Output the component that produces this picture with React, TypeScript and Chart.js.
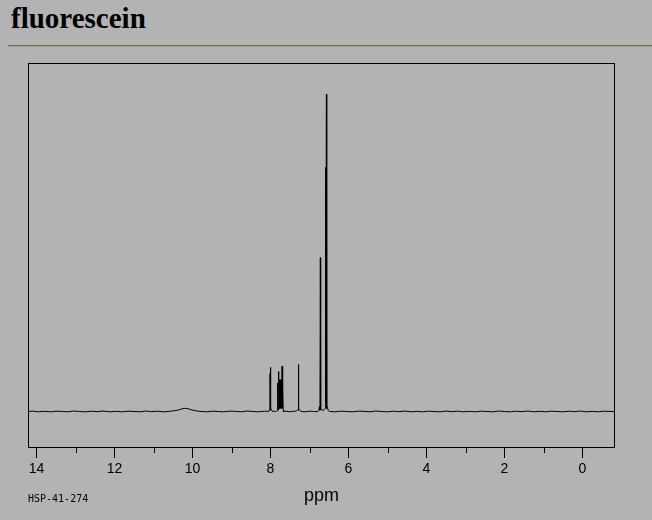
import React, { useEffect, useRef } from 'react';
import { Chart, registerables } from 'chart.js';

Chart.register(...registerables);

// ---- data ----
const compoundName = 'fluorescein';
const sampleCode = 'HSP-41-274';
const axisTitle = 'ppm';

const ppmValues = [
  14.218, 14.1, 13.95, 13.8, 13.62, 13.5, 13.33, 13.2, 13.05, 12.9, 12.74, 12.6, 12.43, 12.3, 12.12, 11.98, 11.8, 11.65, 11.5, 11.34, 11.2, 11.05, 10.9, 10.75, 10.62,
  10.5, 10.38, 10.28, 10.2, 10.12, 10.02, 9.9, 9.78,
  9.62, 9.48, 9.33, 9.2, 9.05, 8.9, 8.75, 8.6, 8.45, 8.3, 8.15, 8.05, 8.03,
  8.017, 8.012, 8.007, 7.995, 7.99, 7.975, 7.95, 7.9, 7.86, 7.84,
  7.83, 7.822, 7.818, 7.81, 7.805, 7.795, 7.79, 7.785, 7.78, 7.775, 7.77, 7.765, 7.76, 7.755, 7.75, 7.745, 7.74, 7.735, 7.73, 7.725, 7.72, 7.715, 7.71, 7.703, 7.698, 7.692, 7.687, 7.68, 7.675, 7.665,
  7.6, 7.5, 7.42, 7.34, 7.31, 7.292, 7.288, 7.283, 7.277, 7.272, 7.255, 7.22, 7.12, 7.0, 6.9, 6.8,
  6.76, 6.745, 6.732, 6.722, 6.714, 6.705, 6.66, 6.62, 6.6, 6.59, 6.583, 6.566, 6.558, 6.545, 6.52, 6.48,
  6.35, 6.2, 6.05, 5.9, 5.75, 5.6, 5.45, 5.3, 5.15, 5.0, 4.85, 4.7, 4.55, 4.4, 4.25, 4.1, 3.95, 3.8, 3.65, 3.5,
  3.35, 3.2, 3.05, 2.9, 2.75, 2.6, 2.45, 2.3, 2.15, 2.0, 1.85, 1.7, 1.55, 1.4, 1.25, 1.1, 0.95, 0.8, 0.65, 0.5,
  0.35, 0.2, 0.05, -0.1, -0.25, -0.4, -0.55, -0.7, -0.833,
];

const intensityValues = [
  0, 0.1, -0.1, 0.05, -0.1, 0.1, 0, -0.1, 0.15, 0, -0.1, 0.1, -0.05, 0.15, -0.1, 0.05, -0.1, 0.1, 0, -0.1, 0.15, -0.05, 0.1, -0.1, 0,
  0.2, 0.4, 0.8, 1.0, 0.9, 0.5, 0.2, 0,
  -0.1, 0.1, 0, -0.1, 0.1, 0.05, -0.1, 0.15, 0, -0.1, 0.1, 0, 0.4,
  0.3, 12.0, 0.6, 13.9, 0.5, 0.6, 0, 0.1, -0.05, 0.2,
  0.3, 6, 0.5, 9, 0.5, 12.6, 1, 10, 1, 10, 1, 10, 1, 10, 1, 10, 1, 10, 1, 10, 1, 10, 1, 14.3, 1, 10, 1, 8, 0.5, 0,
  0.1, -0.1, 0.05, 0.15, 0.5, 0.4, 14.6, 3, 14.8, 0.5, 0.6, 0, -0.1, 0.1, 0, -0.05,
  0.3, 1.5, 0.4, 48.5, 0.6, 0.8, 0.3, 0.6, 1.0, 77, 3, 100, 1.0, 1.5, 0.3, 0,
  -0.1, 0.1, 0, -0.1, 0.1, 0.05, -0.1, 0.15, 0, -0.1, 0.1, -0.05, 0.15, -0.1, 0.05, -0.1, 0.1, 0, -0.1, 0.15,
  -0.05, 0.1, -0.1, 0.05, -0.1, 0.1, 0, -0.1, 0.15, 0, -0.1, 0.1, -0.05, 0.15, -0.1, 0.05, -0.1, 0.1, 0, -0.1,
  0.1, -0.05, 0.15, -0.1, 0.05, -0.1, 0.1, 0, 0,
];

const X_MIN = -0.833;
const X_MAX = 14.218;
const Y_MIN = -11.5;
const Y_MAX = 109.8;
const X_STEP = 1;
const LABEL_EVERY = 2;

const BG = '#b3b3b3';

const framePlugin = {
  id: 'nmrFrame',
  afterDraw(chart: any) {
    const { ctx, chartArea, scales } = chart;
    const { left, top, right, bottom } = chartArea;
    const x = scales.x;
    ctx.save();
    ctx.strokeStyle = '#000';
    ctx.lineWidth = 1;
    ctx.strokeRect(left + 0.5, top + 0.5, right - left - 1, bottom - top - 1);
    // minor ticks (odd values) from the scale's own ticks
    ctx.beginPath();
    x.ticks.forEach((t: any) => {
      if (Math.abs(t.value % LABEL_EVERY) > 1e-6) {
        const px = Math.round(x.getPixelForValue(t.value)) + 0.5;
        ctx.moveTo(px, bottom);
        ctx.lineTo(px, bottom + 5);
      }
    });
    ctx.stroke();
    ctx.fillStyle = '#000';
    ctx.font = '10px "DejaVu Sans Mono", monospace';
    ctx.textBaseline = 'alphabetic';
    ctx.textAlign = 'left';
    ctx.fillText(sampleCode, 28, 502);
    ctx.restore();
  },
};

export default function App() {
  const ref = useRef<HTMLCanvasElement>(null);

  useEffect(() => {
    const canvas = ref.current;
    if (!canvas) return;
    const points = ppmValues.map((x, i) => ({ x, y: intensityValues[i] }));
    const chart = new Chart(canvas, {
      type: 'line',
      data: {
        datasets: [
          {
            data: points,
            borderColor: '#000',
            borderWidth: 1,
            pointRadius: 0,
            tension: 0,
            fill: false,
          },
        ],
      },
      options: {
        animation: false,
        responsive: false,
        maintainAspectRatio: false,
        devicePixelRatio: 1,
        events: [],
        layout: { padding: { left: 28, right: 37, top: 63, bottom: 0 } },
        plugins: {
          legend: { display: false },
          tooltip: { enabled: false },
          title: { display: false },
        },
        scales: {
          x: {
            type: 'linear',
            reverse: true,
            min: X_MIN,
            max: X_MAX,
            afterFit: (s: any) => {
              s.height = 72;
            },
            ticks: {
              stepSize: X_STEP,
              includeBounds: false,
              autoSkip: false,
              maxRotation: 0,
              padding: 3,
              color: '#000',
              font: { family: '"Liberation Sans", Arial, sans-serif', size: 14 },
              callback: (v: any) => (Math.abs(Number(v) % LABEL_EVERY) < 1e-6 ? String(Math.round(Number(v))) : ''),
            },
            grid: {
              display: true,
              drawOnChartArea: false,
              drawTicks: true,
              tickLength: 10,
              tickWidth: 1,
              tickColor: (c: any) =>
                c.tick && Math.abs(c.tick.value % LABEL_EVERY) < 1e-6 ? '#000' : 'rgba(0,0,0,0)',
            },
            border: { display: false },
            title: {
              display: true,
              text: axisTitle,
              color: '#000',
              font: { family: '"Liberation Sans", Arial, sans-serif', size: 18 },
              padding: { top: 0, bottom: 13 },
            },
          },
          y: { display: false, min: Y_MIN, max: Y_MAX },
        },
      } as any,
      plugins: [framePlugin],
    });
    return () => chart.destroy();
  }, []);

  return (
    <div
      style={{
        position: 'absolute',
        left: 0,
        top: 0,
        width: 652,
        height: 520,
        background: BG,
        overflow: 'hidden',
      }}
    >
      <div
        style={{
          position: 'absolute',
          left: 11,
          top: 4,
          font: 'bold 29px "Liberation Serif", "Times New Roman", serif',
          lineHeight: '29px',
          color: '#000',
          whiteSpace: 'nowrap',
        }}
      >
        {compoundName}
      </div>
      <div style={{ position: 'absolute', left: 8, top: 45, width: 644, height: 1, background: '#6e6e5c' }} />
      <div style={{ position: 'absolute', left: 8, top: 46, width: 644, height: 1, background: '#9c9c8c' }} />
      <canvas
        ref={ref}
        width={652}
        height={520}
        style={{ position: 'absolute', left: 0, top: 0, width: 652, height: 520 }}
      />
    </div>
  );
}
